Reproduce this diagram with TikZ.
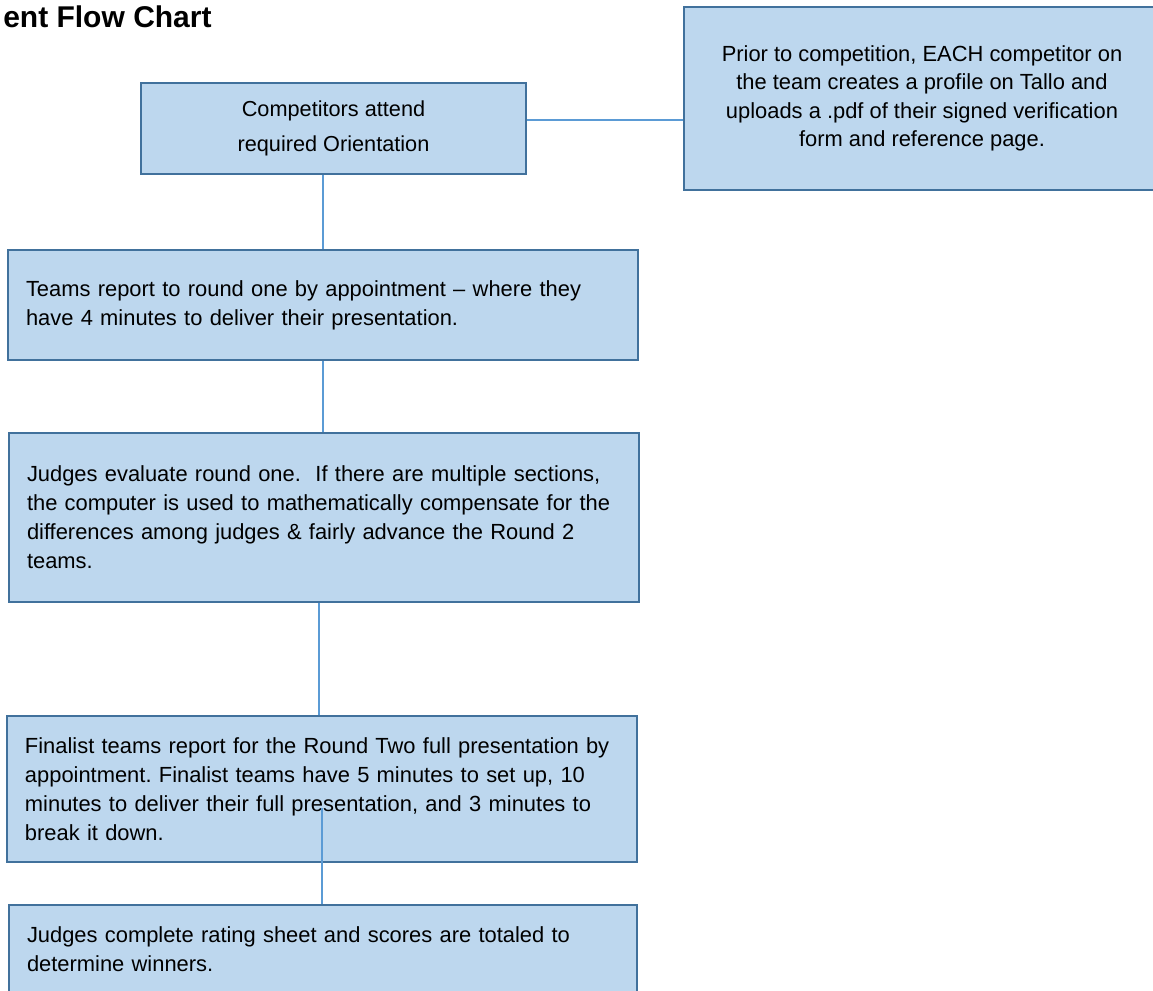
\documentclass[tikz,border=0pt]{standalone}
\usepackage{fontspec}
\setmainfont{Liberation Sans}
\definecolor{boxfill}{RGB}{189,215,238}
\definecolor{boxline}{RGB}{65,113,156}
\definecolor{linkline}{RGB}{91,155,213}
\frenchspacing

\begin{document}
\begin{tikzpicture}[x=0.5pt, y=-0.5pt,
    every node/.style={font=\fontsize{10.95}{14.5}\selectfont},
    stepbox/.style={draw=boxline, line width=1.25pt, fill=boxfill, rectangle, inner ysep=0pt},
    widebox/.style={stepbox, align=left, inner xsep=9pt, text width=297pt, minimum width=315pt},
    link/.style={draw=linkline, line width=0.75pt}]
			\useasboundingbox (0,0) rectangle (1153,991);

			% Title
			\node[anchor=base east, inner sep=0pt, font=\fontsize{15}{18}\selectfont\bfseries] (title) at (212,27.5) {ent Flow Chart};

			% Boxes
			\node[stepbox, align=center, minimum width=192.5pt, minimum height=45.5pt, font=\fontsize{10.85}{17.5}\selectfont] (orient) at (333.5,128.5) {Competitors attend\\required Orientation};
			\node[stepbox, align=center, minimum width=238pt, minimum height=91.5pt, font=\fontsize{10.95}{14.2}\selectfont] (prior) at (922,98.5) {Prior to competition, EACH competitor on\\the team creates a profile on Tallo and\\uploads a .pdf of their signed verification\\form and reference page.};
			\node[widebox, minimum height=55pt] (teams) at (323,305) {Teams report to round one by appointment -- where they\\have 4 minutes to deliver their presentation.};
			\node[widebox, minimum height=84.5pt] (evaluate) at (324,517.5) {Judges evaluate round one.\ \ If there are multiple sections,\\the computer is used to mathematically compensate for the\\differences among judges \& fairly advance the Round 2\\teams.};
			\node[widebox, minimum height=73pt] (finals) at (322,789) {Finalist teams report for the Round Two full presentation by\\appointment. Finalist teams have 5 minutes to set up, 10\\minutes to deliver their full presentation, and 3 minutes to\\break it down.};
			\node[widebox, minimum width=314pt, text width=296pt, minimum height=44.5pt] (winners) at (323,949.5) {Judges complete rating sheet and scores are totaled to\\determine winners.};

			% Connectors
			\draw[link] ([yshift=4.25pt]orient.east) -- ([yshift=4.25pt]orient.east -| prior.west);
			\draw[link] (teams.north |- orient.south) -- (teams.north);
			\draw[link] (teams.south) -- (teams.south |- evaluate.north);
			\draw[link] ([xshift=-2.5pt]evaluate.south) -- ([xshift=-2.5pt]evaluate.south |- finals.north);
			\draw[link] ([yshift=-9.5pt]finals.center) -- (finals.center |- winners.north);
\end{tikzpicture}
\end{document}
